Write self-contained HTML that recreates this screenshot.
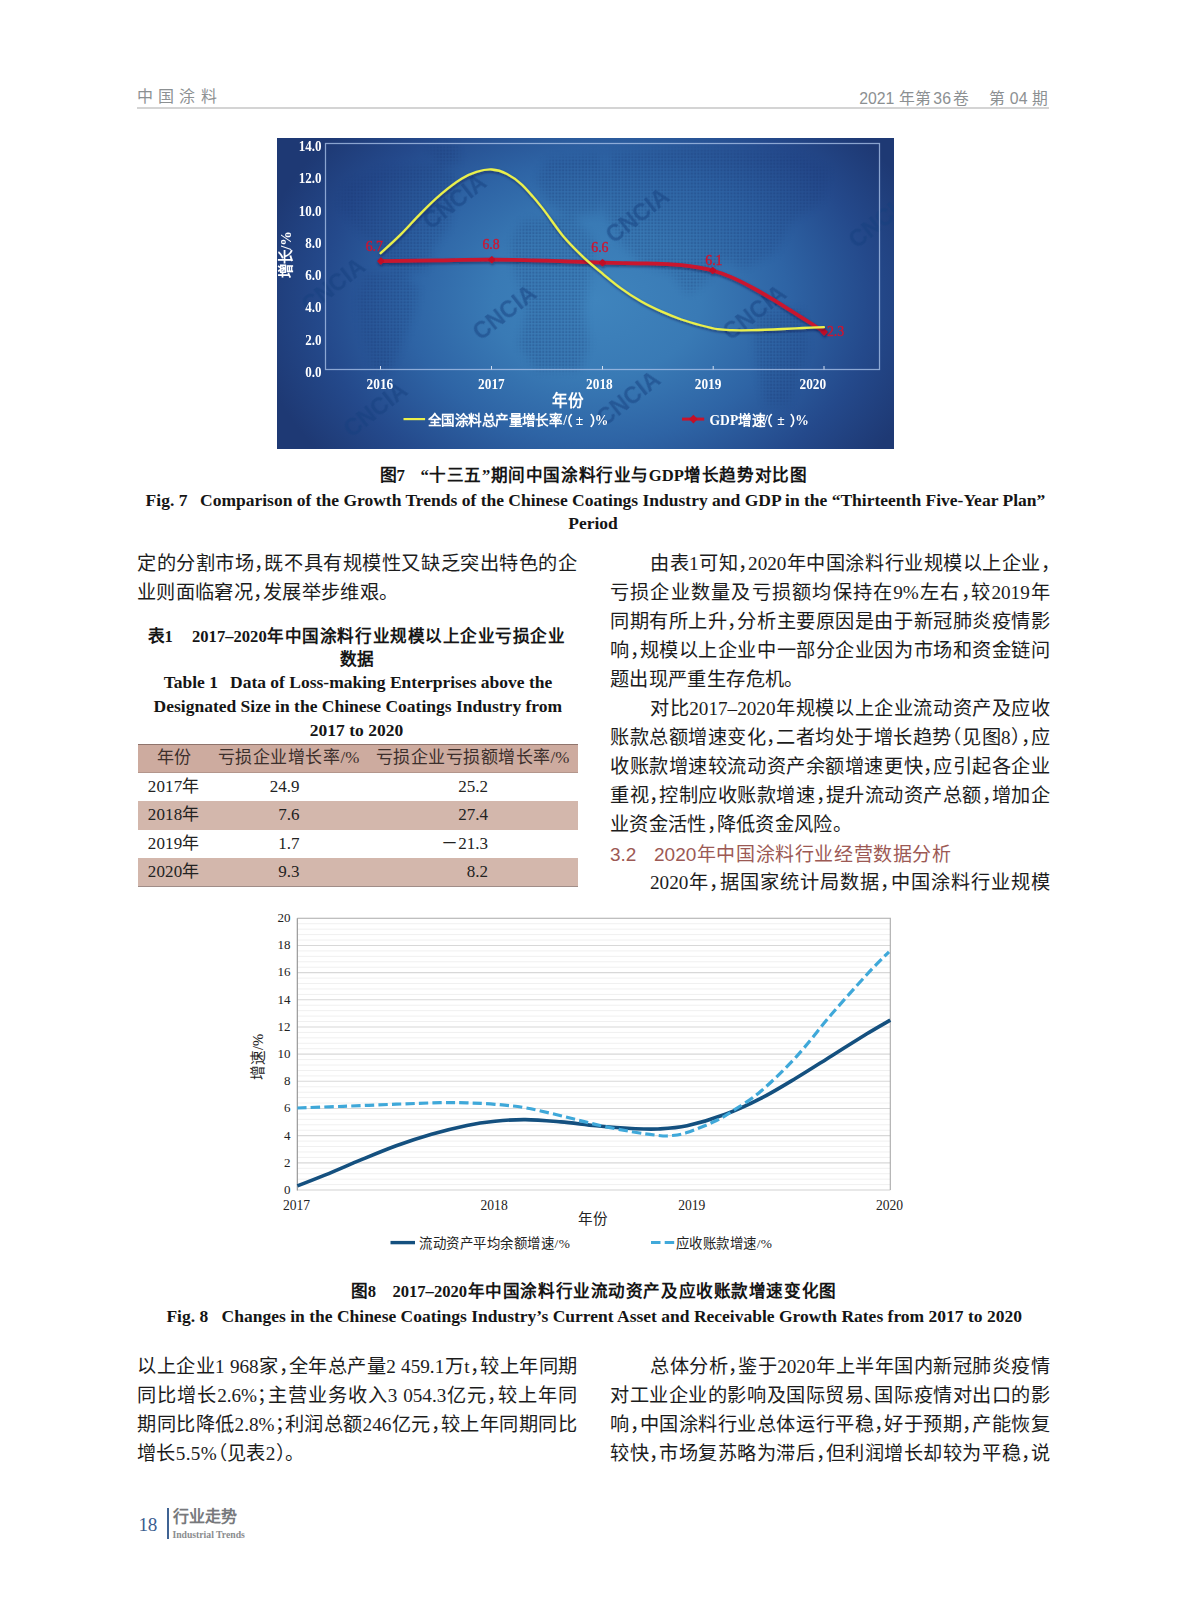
<!DOCTYPE html>
<html lang="zh-CN">
<head>
<meta charset="utf-8">
<title>中国涂料 2021年第36卷 第04期</title>
<style>
html,body{margin:0;padding:0;background:#fff;}
body{width:1187px;height:1600px;position:relative;overflow:hidden;font-family:"Liberation Serif",serif;color:#1a1a1a;text-spacing-trim:space-all;}
.a{position:absolute;white-space:nowrap;}
.l{position:absolute;white-space:nowrap;font-size:19.2px;line-height:29px;height:29px;text-align:justify;text-align-last:justify;color:#1c1c1c;}
.l.s{text-align:left;text-align-last:left;letter-spacing:0.36px;}
i.c{font-style:normal;margin-right:-0.5em;}
i.o{font-style:normal;margin-left:-0.5em;}
.cap{position:absolute;white-space:nowrap;font-weight:bold;text-align:center;color:#151515;}
.zh{font-family:"Liberation Serif",sans-serif;}
.hd{font-family:"Liberation Sans",sans-serif;color:#8c9092;font-size:16px;}
.tb{position:absolute;left:137.5px;width:440px;}
.tr{position:absolute;left:0;width:440px;height:28.6px;line-height:28.6px;font-size:17px;color:#222;}
.tr span{position:absolute;top:0;text-align:center;white-space:nowrap;}
.sh{background:#d3b7ac;}
.th{background:#cdab9f;color:#3c2f2c;}
</style>
</head>
<body>
<div class="a hd" style="left:137px;top:87px;line-height:20px;letter-spacing:5.2px;">中国涂料</div>
<div class="a hd" style="left:859.2px;top:89px;line-height:20px;font-size:15.8px;word-spacing:0.5px;">2021<span style="margin-left:4.3px;letter-spacing:0.8px;">年第</span><span style="margin-left:1.1px;">36</span><span style="margin-left:2.1px;">卷</span><span style="margin-left:10.2px;">&nbsp;&nbsp;第 04 期</span></div>
<div class="a" style="left:137px;top:107.4px;width:912px;height:1.3px;background:#d4d4d4;"></div>
<svg style="position:absolute;left:276.5px;top:137.5px;" width="617" height="311" viewBox="276.5 137.5 617 311" font-family="'Liberation Serif',serif">
<defs>
<radialGradient id="bg1" gradientUnits="userSpaceOnUse" cx="596" cy="300" r="345" gradientTransform="translate(596 300) scale(1 0.74) translate(-596 -300)">
<stop offset="0" stop-color="#3f84bd"/><stop offset="0.3" stop-color="#397ab5"/><stop offset="0.55" stop-color="#2e64a5"/><stop offset="0.8" stop-color="#24498b"/><stop offset="1" stop-color="#1e3974"/>
</radialGradient>
<pattern id="dots" x="0" y="0" width="3.3" height="3.3" patternUnits="userSpaceOnUse"><rect x="0.4" y="0.4" width="2.3" height="2.3" fill="#17336e"/></pattern>
<filter id="sh1" x="-5%" y="-20%" width="110%" height="140%"><feDropShadow dx="0.6" dy="1.6" stdDeviation="1.2" flood-color="#0a1840" flood-opacity="0.55"/></filter>
<filter id="blur3" x="-10%" y="-10%" width="120%" height="120%"><feGaussianBlur stdDeviation="4"/></filter>
</defs>
<rect x="276.5" y="137.5" width="617" height="311" fill="url(#bg1)"/>
<mask id="mapmask" maskUnits="userSpaceOnUse" x="276.5" y="137.5" width="617" height="311"><g fill="#fff" filter="url(#blur3)">
<polygon points="344.5,184.7 380.8,169.1 432.7,163.9 456.0,174.3 453.4,200.3 448.3,226.2 432.7,247.0 427.5,267.7 406.7,274.0 391.2,267.7 375.6,247.0 354.8,226.2 339.3,205.5"/>
<polygon points="365.2,272.9 401.5,270.3 418.2,288.5 413.0,314.4 400.5,345.6 390.1,368.9 373.5,368.9 362.6,335.2 357.4,298.9"/>
<polygon points="427.5,147.3 456.0,144.2 459.7,161.4 438.9,168.1"/>
<polygon points="546.8,158.8 598.7,153.6 609.1,179.5 599.8,210.7 567.6,216.9 546.8,201.3 536.5,179.5"/>
<polygon points="520.9,221.0 572.8,215.8 594.6,241.8 589.4,272.9 583.2,309.3 588.4,345.6 579.0,370.0 536.5,370.0 518.3,345.6 526.1,309.3 513.1,267.7 510.5,241.8"/>
<polygon points="609.1,153.6 692.2,148.4 795.9,153.6 828.1,169.1 821.9,200.3 790.8,221.0 775.2,252.2 744.0,267.7 723.3,258.4 703.6,283.3 687.0,293.7 671.4,272.9 640.3,262.5 619.5,241.8 603.9,210.7"/>
<polygon points="759.6,309.3 801.1,309.3 807.4,345.6 795.9,381.9 788.2,403.7 764.8,403.7 757.0,366.3 753.4,335.2"/>
</g></mask>
<rect x="276.5" y="137.5" width="617" height="311" fill="url(#dots)" mask="url(#mapmask)" opacity="0.3"/>
<g font-family="'Liberation Sans',sans-serif" font-weight="bold" font-size="23" fill="#16407f" opacity="0.5" text-anchor="middle">
<text x="454" y="201" transform="rotate(-38 454 201)" dy="8">CNCIA</text>
<text x="504" y="312" transform="rotate(-38 504 312)" dy="8">CNCIA</text>
<text x="333" y="285" transform="rotate(-38 333 285)" dy="8">CNCIA</text>
<text x="637" y="215" transform="rotate(-38 637 215)" dy="8">CNCIA</text>
<text x="754" y="312" transform="rotate(-38 754 312)" dy="8">CNCIA</text>
<text x="880" y="220" transform="rotate(-38 880 220)" dy="8">CNCIA</text>
<text x="375" y="409" transform="rotate(-38 375 409)" dy="8">CNCIA</text>
<text x="628" y="398" transform="rotate(-38 628 398)" dy="8">CNCIA</text>
</g>
<rect x="325" y="143" width="554" height="226" fill="none" stroke="#a9c2e8" stroke-width="1.25" opacity="0.78"/>
<line x1="380" y1="365.5" x2="380" y2="369" stroke="#d5dff0" stroke-width="1"/>
<line x1="491" y1="365.5" x2="491" y2="369" stroke="#d5dff0" stroke-width="1"/>
<line x1="602" y1="365.5" x2="602" y2="369" stroke="#d5dff0" stroke-width="1"/>
<line x1="712.7" y1="365.5" x2="712.7" y2="369" stroke="#d5dff0" stroke-width="1"/>
<line x1="823.5" y1="365.5" x2="823.5" y2="369" stroke="#d5dff0" stroke-width="1"/>
<g fill="#fff" font-weight="bold" font-size="15.2" text-anchor="end">
<text x="321" y="371.4" dy="5.1" textLength="16.3" lengthAdjust="spacingAndGlyphs">0.0</text>
<text x="321" y="339.1" dy="5.1" textLength="16.3" lengthAdjust="spacingAndGlyphs">2.0</text>
<text x="321" y="306.8" dy="5.1" textLength="16.3" lengthAdjust="spacingAndGlyphs">4.0</text>
<text x="321" y="274.5" dy="5.1" textLength="16.3" lengthAdjust="spacingAndGlyphs">6.0</text>
<text x="321" y="242.3" dy="5.1" textLength="16.3" lengthAdjust="spacingAndGlyphs">8.0</text>
<text x="321" y="210.0" dy="5.1" textLength="22.8" lengthAdjust="spacingAndGlyphs">10.0</text>
<text x="321" y="177.7" dy="5.1" textLength="22.8" lengthAdjust="spacingAndGlyphs">12.0</text>
<text x="321" y="145.4" dy="5.1" textLength="22.8" lengthAdjust="spacingAndGlyphs">14.0</text>
</g>
<g fill="#fff" font-weight="bold" font-size="15.2" text-anchor="middle">
<text x="379.4" y="388.4" textLength="26.6" lengthAdjust="spacingAndGlyphs">2016</text>
<text x="490.9" y="388.4" textLength="26.6" lengthAdjust="spacingAndGlyphs">2017</text>
<text x="598.9" y="388.4" textLength="26.6" lengthAdjust="spacingAndGlyphs">2018</text>
<text x="707.6" y="388.4" textLength="26.6" lengthAdjust="spacingAndGlyphs">2019</text>
<text x="812.3" y="388.4" textLength="26.6" lengthAdjust="spacingAndGlyphs">2020</text>
</g>
<text x="567.5" y="405.2" fill="#fff" font-weight="bold" font-size="15.5" text-anchor="middle" font-family="'Liberation Serif',sans-serif">年份</text>
<text x="290.5" y="254" fill="#fff" font-weight="bold" font-size="14.5" text-anchor="middle" transform="rotate(-90 290.5 254)" font-family="'Liberation Serif',sans-serif">增长/%</text>
<g filter="url(#sh1)"><path d="M380.3,260.6 C389.4,260.5 416.5,260.0 435.0,259.8 C453.5,259.6 473.0,259.1 491.3,259.2 C509.6,259.3 526.5,259.7 545.0,260.2 C563.5,260.7 586.1,261.8 602.0,262.2 C617.9,262.6 628.9,262.5 640.4,262.8 C651.9,263.1 662.4,263.3 670.8,263.8 C679.2,264.3 684.1,264.8 691.0,265.8 C697.9,266.8 705.5,268.1 712.2,270.0 C718.9,271.9 724.8,274.1 731.4,276.9 C738.0,279.7 744.9,283.4 751.6,287.0 C758.4,290.6 765.1,294.6 771.9,298.7 C778.6,302.8 785.4,307.1 792.1,311.3 C798.8,315.5 807.0,320.6 812.3,324.0 C817.5,327.4 821.7,330.2 823.6,331.4" fill="none" stroke="#c9162f" stroke-width="3.7" stroke-linecap="round"/>
<rect x="377.5" y="257.8" width="5.6" height="5.6" rx="1" fill="#c00d25" transform="rotate(45 380.3 260.6)"/>
<rect x="488.5" y="256.4" width="5.6" height="5.6" rx="1" fill="#c00d25" transform="rotate(45 491.3 259.2)"/>
<rect x="599.2" y="259.4" width="5.6" height="5.6" rx="1" fill="#c00d25" transform="rotate(45 602 262.2)"/>
<rect x="709.4" y="267.2" width="5.6" height="5.6" rx="1" fill="#c00d25" transform="rotate(45 712.2 270)"/>
<rect x="820.8" y="328.6" width="5.6" height="5.6" rx="1" fill="#c00d25" transform="rotate(45 823.6 331.4)"/>
</g>
<path d="M380.1,252.7 C383.5,249.6 393.6,240.6 400.3,233.9 C407.0,227.2 413.8,219.3 420.5,212.6 C427.2,205.8 434.1,199.1 440.8,193.4 C447.6,187.7 455.1,182.0 461.0,178.3 C466.9,174.6 470.9,173.0 476.0,171.4 C481.1,169.8 486.2,168.7 491.3,169.0 C496.4,169.3 501.4,170.8 506.5,173.4 C511.6,176.0 515.7,178.6 521.6,184.3 C527.5,190.0 535.1,199.2 541.9,207.6 C548.6,216.0 555.4,226.8 562.1,234.9 C568.8,243.0 576.0,250.0 582.3,256.1 C588.6,262.2 593.7,266.1 600.0,271.4 C606.3,276.6 613.5,282.7 620.2,287.6 C626.9,292.5 633.6,296.9 640.4,300.8 C647.1,304.7 654.0,307.9 660.7,310.9 C667.5,313.9 674.2,316.6 680.9,319.0 C687.6,321.4 695.0,323.4 701.1,325.0 C707.2,326.6 712.2,327.9 717.3,328.7 C722.3,329.5 725.7,329.5 731.4,329.7 C737.1,329.9 743.2,329.9 751.6,329.7 C760.0,329.5 773.6,328.9 782.0,328.5 C790.4,328.1 795.3,327.8 802.2,327.5 C809.1,327.2 819.9,326.8 823.4,326.6" fill="none" stroke="#eaf04c" stroke-width="2.3" stroke-linecap="round" filter="url(#sh1)"/>
<g fill="#d0142f" stroke="#d0142f" stroke-width="0.35" font-size="13.8" text-anchor="middle">
<text x="373.8" y="250.6">6.7</text>
<text x="490.5" y="248.4">6.8</text>
<text x="599.4" y="251">6.6</text>
<text x="713.4" y="264">6.1</text>
<text x="835" y="335.8">2.3</text>
</g>
<line x1="403" y1="418.6" x2="424.6" y2="418.6" stroke="#ecf04a" stroke-width="2.2"/>
<text y="424.9" fill="#fff" font-weight="bold" font-size="13.6" font-family="'Liberation Serif',sans-serif"><tspan x="427.4" textLength="135" lengthAdjust="spacing">全国涂料总产量增长率</tspan><tspan x="562.8">/</tspan><tspan x="558.7">（</tspan><tspan x="575.2">±</tspan><tspan x="589.3">）</tspan><tspan x="594.3">%</tspan></text>
<line x1="681.5" y1="418.6" x2="703.7" y2="418.6" stroke="#c8142d" stroke-width="3"/>
<rect x="689.8" y="415.5" width="6.2" height="6.2" fill="#c40f27" transform="rotate(45 692.9 418.6)"/>
<text y="424.3" fill="#fff" font-weight="bold" font-size="13.6" font-family="'Liberation Serif',sans-serif"><tspan x="709">GDP</tspan><tspan x="737.2">增速</tspan><tspan x="763.4">/</tspan><tspan x="758.5">（</tspan><tspan x="776.7">±</tspan><tspan x="789.5">）</tspan><tspan x="794.7">%</tspan></text>
</svg>
<div class="cap zh" style="left:379.5px;top:465px;line-height:22px;font-size:16.8px;">图7</div>
<div class="cap zh" style="left:420.4px;top:465px;line-height:22px;font-size:16.6px;width:386.3px;text-align:justify;text-align-last:justify;">“十三五”期间中国涂料行业与GDP增长趋势对比图</div>
<div class="cap" style="left:145.6px;top:488.6px;line-height:22px;font-size:17.5px;">Fig. 7</div>
<div class="cap" style="left:200px;top:488.6px;line-height:22px;font-size:17.5px;width:845px;text-align:justify;text-align-last:justify;">Comparison of the Growth Trends of the Chinese Coatings Industry and GDP in the “Thirteenth Five-Year Plan”</div>
<div class="cap" style="left:493px;top:512px;line-height:22px;font-size:17.5px;width:200px;">Period</div>
<div class="l" style="left:137px;top:548.5px;width:440px;">定的分割市场<i class="c">，</i>既不具有规模性又缺乏突出特色的企</div>
<div class="l s" style="left:137px;top:577.5px;">业则面临窘况<i class="c">，</i>发展举步维艰。</div>
<div class="l" style="left:650px;top:548.5px;width:400px;">由表1可知<i class="c">，</i>2020年中国涂料行业规模以上企业<i class="c">，</i></div>
<div class="l" style="left:610px;top:577.5px;width:440px;">亏损企业数量及亏损额均保持在9%左右<i class="c">，</i>较2019年</div>
<div class="l" style="left:610px;top:606.5px;width:440px;">同期有所上升<i class="c">，</i>分析主要原因是由于新冠肺炎疫情影</div>
<div class="l" style="left:610px;top:635.5px;width:440px;">响<i class="c">，</i>规模以上企业中一部分企业因为市场和资金链问</div>
<div class="l s" style="left:610px;top:664.5px;">题出现严重生存危机。</div>
<div class="l" style="left:650px;top:693.5px;width:400px;">对比2017–2020年规模以上企业流动资产及应收</div>
<div class="l" style="left:610px;top:722.5px;width:440px;">账款总额增速变化<i class="c">，</i>二者均处于增长趋势<i class="o">（</i>见图8<i class="c">）</i><i class="c">，</i>应</div>
<div class="l" style="left:610px;top:751.5px;width:440px;">收账款增速较流动资产余额增速更快<i class="c">，</i>应引起各企业</div>
<div class="l" style="left:610px;top:780.7px;width:440px;">重视<i class="c">，</i>控制应收账款增速<i class="c">，</i>提升流动资产总额<i class="c">，</i>增加企</div>
<div class="l s" style="left:610px;top:809.7px;">业资金活性<i class="c">，</i>降低资金风险。</div>
<div class="a" style="left:610px;top:842.6px;line-height:24px;font-size:19px;font-weight:500;font-family:'Liberation Sans',sans-serif;color:#9c5954;width:341px;text-align:justify;text-align-last:justify;">3.2&nbsp;&nbsp;&nbsp;2020年中国涂料行业经营数据分析</div>
<div class="l" style="left:650px;top:867.7px;width:400px;">2020年<i class="c">，</i>据国家统计局数据<i class="c">，</i>中国涂料行业规模</div>
<div class="cap zh" style="left:147.5px;top:626.2px;line-height:22px;font-size:16.6px;">表1</div>
<div class="cap zh" style="left:192px;top:626.2px;line-height:22px;font-size:16.6px;width:373px;text-align:justify;text-align-last:justify;">2017–2020年中国涂料行业规模以上企业亏损企业</div>
<div class="cap zh" style="left:257px;top:649px;line-height:22px;font-size:16.6px;width:200px;">数据</div>
<div class="cap" style="left:163.7px;top:671px;line-height:22px;font-size:17.5px;">Table 1</div>
<div class="cap" style="left:230px;top:671px;line-height:22px;font-size:17.5px;width:320.8px;text-align:justify;text-align-last:justify;">Data of Loss-making Enterprises above the</div>
<div class="cap" style="left:153.6px;top:694.6px;line-height:22px;font-size:17.5px;width:407.4px;text-align:justify;text-align-last:justify;">Designated Size in the Chinese Coatings Industry from</div>
<div class="cap" style="left:256.5px;top:718.6px;line-height:22px;font-size:17.5px;width:200px;">2017 to 2020</div>
<div class="tb" style="top:744px;height:143px;">
<div class="tr th" style="top:0px;">
<span style="left:18px;width:36px;">年份</span><span style="left:80px;width:142px;text-align-last:justify;">亏损企业增长率/%</span><span style="left:238px;width:194px;text-align-last:justify;">亏损企业亏损额增长率/%</span>
</div>
<div class="tr" style="top:28.6px;">
<span style="left:10.3px;text-align:left;letter-spacing:0.15px;">2017年</span><span style="left:62px;width:100px;text-align:right;">24.9</span><span style="left:230.6px;width:120px;text-align:right;">25.2</span>
</div>
<div class="tr sh" style="top:57.2px;">
<span style="left:10.3px;text-align:left;letter-spacing:0.15px;">2018年</span><span style="left:62px;width:100px;text-align:right;">7.6</span><span style="left:230.6px;width:120px;text-align:right;">27.4</span>
</div>
<div class="tr" style="top:85.8px;">
<span style="left:10.3px;text-align:left;letter-spacing:0.15px;">2019年</span><span style="left:62px;width:100px;text-align:right;">1.7</span><span style="left:230.6px;width:120px;text-align:right;">－21.3</span>
</div>
<div class="tr sh" style="top:114.4px;">
<span style="left:10.3px;text-align:left;letter-spacing:0.15px;">2020年</span><span style="left:62px;width:100px;text-align:right;">9.3</span><span style="left:230.6px;width:120px;text-align:right;">8.2</span>
</div>
<div style="position:absolute;left:0;top:-0.2px;width:440px;height:1.1px;background:#8f746c;"></div>
<div style="position:absolute;left:0;top:28px;width:440px;height:0.8px;background:#b3968c;"></div>
<div style="position:absolute;left:0;top:142.2px;width:440px;height:1px;background:#a08d88;"></div>
</div>
<svg style="position:absolute;left:240px;top:905px;" width="680" height="357" viewBox="240 905 680 357" font-family="'Liberation Serif',serif">
<line x1="297.3" y1="1184.57" x2="890.3" y2="1184.57" stroke="#f0f0f0" stroke-width="1"/>
<line x1="297.3" y1="1179.13" x2="890.3" y2="1179.13" stroke="#f0f0f0" stroke-width="1"/>
<line x1="297.3" y1="1173.70" x2="890.3" y2="1173.70" stroke="#f0f0f0" stroke-width="1"/>
<line x1="297.3" y1="1168.26" x2="890.3" y2="1168.26" stroke="#f0f0f0" stroke-width="1"/>
<line x1="297.3" y1="1157.40" x2="890.3" y2="1157.40" stroke="#f0f0f0" stroke-width="1"/>
<line x1="297.3" y1="1151.96" x2="890.3" y2="1151.96" stroke="#f0f0f0" stroke-width="1"/>
<line x1="297.3" y1="1146.53" x2="890.3" y2="1146.53" stroke="#f0f0f0" stroke-width="1"/>
<line x1="297.3" y1="1141.09" x2="890.3" y2="1141.09" stroke="#f0f0f0" stroke-width="1"/>
<line x1="297.3" y1="1130.23" x2="890.3" y2="1130.23" stroke="#f0f0f0" stroke-width="1"/>
<line x1="297.3" y1="1124.79" x2="890.3" y2="1124.79" stroke="#f0f0f0" stroke-width="1"/>
<line x1="297.3" y1="1119.36" x2="890.3" y2="1119.36" stroke="#f0f0f0" stroke-width="1"/>
<line x1="297.3" y1="1113.92" x2="890.3" y2="1113.92" stroke="#f0f0f0" stroke-width="1"/>
<line x1="297.3" y1="1103.06" x2="890.3" y2="1103.06" stroke="#f0f0f0" stroke-width="1"/>
<line x1="297.3" y1="1097.62" x2="890.3" y2="1097.62" stroke="#f0f0f0" stroke-width="1"/>
<line x1="297.3" y1="1092.19" x2="890.3" y2="1092.19" stroke="#f0f0f0" stroke-width="1"/>
<line x1="297.3" y1="1086.75" x2="890.3" y2="1086.75" stroke="#f0f0f0" stroke-width="1"/>
<line x1="297.3" y1="1075.89" x2="890.3" y2="1075.89" stroke="#f0f0f0" stroke-width="1"/>
<line x1="297.3" y1="1070.45" x2="890.3" y2="1070.45" stroke="#f0f0f0" stroke-width="1"/>
<line x1="297.3" y1="1065.02" x2="890.3" y2="1065.02" stroke="#f0f0f0" stroke-width="1"/>
<line x1="297.3" y1="1059.58" x2="890.3" y2="1059.58" stroke="#f0f0f0" stroke-width="1"/>
<line x1="297.3" y1="1048.72" x2="890.3" y2="1048.72" stroke="#f0f0f0" stroke-width="1"/>
<line x1="297.3" y1="1043.28" x2="890.3" y2="1043.28" stroke="#f0f0f0" stroke-width="1"/>
<line x1="297.3" y1="1037.85" x2="890.3" y2="1037.85" stroke="#f0f0f0" stroke-width="1"/>
<line x1="297.3" y1="1032.41" x2="890.3" y2="1032.41" stroke="#f0f0f0" stroke-width="1"/>
<line x1="297.3" y1="1021.55" x2="890.3" y2="1021.55" stroke="#f0f0f0" stroke-width="1"/>
<line x1="297.3" y1="1016.11" x2="890.3" y2="1016.11" stroke="#f0f0f0" stroke-width="1"/>
<line x1="297.3" y1="1010.68" x2="890.3" y2="1010.68" stroke="#f0f0f0" stroke-width="1"/>
<line x1="297.3" y1="1005.24" x2="890.3" y2="1005.24" stroke="#f0f0f0" stroke-width="1"/>
<line x1="297.3" y1="994.38" x2="890.3" y2="994.38" stroke="#f0f0f0" stroke-width="1"/>
<line x1="297.3" y1="988.94" x2="890.3" y2="988.94" stroke="#f0f0f0" stroke-width="1"/>
<line x1="297.3" y1="983.51" x2="890.3" y2="983.51" stroke="#f0f0f0" stroke-width="1"/>
<line x1="297.3" y1="978.07" x2="890.3" y2="978.07" stroke="#f0f0f0" stroke-width="1"/>
<line x1="297.3" y1="967.21" x2="890.3" y2="967.21" stroke="#f0f0f0" stroke-width="1"/>
<line x1="297.3" y1="961.77" x2="890.3" y2="961.77" stroke="#f0f0f0" stroke-width="1"/>
<line x1="297.3" y1="956.34" x2="890.3" y2="956.34" stroke="#f0f0f0" stroke-width="1"/>
<line x1="297.3" y1="950.90" x2="890.3" y2="950.90" stroke="#f0f0f0" stroke-width="1"/>
<line x1="297.3" y1="940.04" x2="890.3" y2="940.04" stroke="#f0f0f0" stroke-width="1"/>
<line x1="297.3" y1="934.60" x2="890.3" y2="934.60" stroke="#f0f0f0" stroke-width="1"/>
<line x1="297.3" y1="929.17" x2="890.3" y2="929.17" stroke="#f0f0f0" stroke-width="1"/>
<line x1="297.3" y1="923.73" x2="890.3" y2="923.73" stroke="#f0f0f0" stroke-width="1"/>
<line x1="297.3" y1="1162.83" x2="890.3" y2="1162.83" stroke="#d8d8d8" stroke-width="1.1"/>
<line x1="297.3" y1="1135.66" x2="890.3" y2="1135.66" stroke="#d8d8d8" stroke-width="1.1"/>
<line x1="297.3" y1="1108.49" x2="890.3" y2="1108.49" stroke="#d8d8d8" stroke-width="1.1"/>
<line x1="297.3" y1="1081.32" x2="890.3" y2="1081.32" stroke="#d8d8d8" stroke-width="1.1"/>
<line x1="297.3" y1="1054.15" x2="890.3" y2="1054.15" stroke="#d8d8d8" stroke-width="1.1"/>
<line x1="297.3" y1="1026.98" x2="890.3" y2="1026.98" stroke="#d8d8d8" stroke-width="1.1"/>
<line x1="297.3" y1="999.81" x2="890.3" y2="999.81" stroke="#d8d8d8" stroke-width="1.1"/>
<line x1="297.3" y1="972.64" x2="890.3" y2="972.64" stroke="#d8d8d8" stroke-width="1.1"/>
<line x1="297.3" y1="945.47" x2="890.3" y2="945.47" stroke="#d8d8d8" stroke-width="1.1"/>
<line x1="297.3" y1="1190" x2="890.3" y2="1190" stroke="#d2d2d2" stroke-width="1.2"/>
<path d="M297.3,918.3 L890.3,918.3 L890.3,1190" fill="none" stroke="#ababab" stroke-width="1.1"/>
<line x1="297.3" y1="918.3" x2="297.3" y2="1190.6" stroke="#8f8f8f" stroke-width="1.1"/>
<g fill="#222" font-size="13" text-anchor="end">
<text x="290.5" y="1190.0" dy="3.8">0</text>
<text x="290.5" y="1162.8" dy="3.8">2</text>
<text x="290.5" y="1135.7" dy="3.8">4</text>
<text x="290.5" y="1108.5" dy="3.8">6</text>
<text x="290.5" y="1081.3" dy="3.8">8</text>
<text x="290.5" y="1054.2" dy="3.8">10</text>
<text x="290.5" y="1027.0" dy="3.8">12</text>
<text x="290.5" y="999.8" dy="3.8">14</text>
<text x="290.5" y="972.6" dy="3.8">16</text>
<text x="290.5" y="945.5" dy="3.8">18</text>
<text x="290.5" y="918.3" dy="3.8">20</text>
</g>
<g fill="#222" font-size="13.6" text-anchor="middle">
<text x="296.5" y="1210.4">2017</text>
<text x="494.1" y="1210.4">2018</text>
<text x="691.8" y="1210.4">2019</text>
<text x="889.5" y="1210.4">2020</text>
</g>
<text x="593" y="1223.6" fill="#222" font-size="14.6" text-anchor="middle">年份</text>
<text x="262.5" y="1057" fill="#222" font-size="14.6" text-anchor="middle" transform="rotate(-90 262.5 1057)">增速/%</text>
<path d="M297.4,1185.9 C302.1,1184.1 314.8,1179.2 325.4,1174.9 C336.0,1170.6 349.0,1164.8 360.8,1159.9 C372.6,1155.0 384.4,1150.0 396.2,1145.7 C408.0,1141.4 419.7,1137.6 431.5,1134.2 C443.3,1130.8 456.3,1127.6 466.9,1125.4 C477.5,1123.2 485.2,1122.2 495.0,1121.2 C504.8,1120.2 514.4,1119.5 525.4,1119.6 C536.4,1119.7 549.0,1120.9 560.8,1121.9 C572.6,1122.9 584.4,1124.7 596.2,1125.8 C608.0,1126.9 621.2,1128.0 631.5,1128.5 C641.8,1129.0 648.8,1129.5 658.0,1129.0 C667.2,1128.5 675.8,1128.2 687.0,1125.8 C698.2,1123.3 713.1,1118.9 725.4,1114.3 C737.7,1109.7 749.0,1104.5 760.8,1098.4 C772.6,1092.4 784.4,1085.1 796.2,1078.0 C808.0,1070.9 819.7,1063.3 831.5,1055.9 C843.3,1048.5 857.1,1039.8 866.9,1033.8 C876.7,1027.8 886.4,1022.4 890.3,1020.1" fill="none" stroke="#14507f" stroke-width="3.6" stroke-linecap="butt"/>
<path d="M297.4,1108.0 C305.0,1107.7 326.5,1106.9 343.0,1106.3 C359.5,1105.7 380.0,1104.8 396.2,1104.2 C412.4,1103.6 428.6,1102.9 440.4,1102.7 C452.2,1102.5 457.8,1102.6 466.9,1102.9 C476.0,1103.2 485.2,1103.5 495.0,1104.3 C504.8,1105.1 514.4,1105.9 525.4,1107.8 C536.4,1109.7 549.0,1112.9 560.8,1115.7 C572.6,1118.5 584.4,1121.9 596.2,1124.6 C608.0,1127.3 621.2,1129.9 631.5,1131.7 C641.8,1133.5 651.5,1134.7 658.0,1135.4 C664.5,1136.1 665.7,1136.2 670.5,1135.7 C675.3,1135.2 679.3,1135.1 687.0,1132.6 C694.7,1130.1 708.6,1124.3 716.5,1120.5 C724.4,1116.7 726.8,1114.8 734.2,1109.9 C741.6,1105.0 750.5,1100.2 760.8,1091.3 C771.1,1082.4 784.4,1069.6 796.2,1056.8 C808.0,1044.0 819.7,1028.0 831.5,1014.3 C843.3,1000.6 857.3,984.9 866.9,974.5 C876.5,964.1 885.3,955.6 889.0,951.8" fill="none" stroke="#3fa8d9" stroke-width="3.2" stroke-dasharray="9.3 4.2" stroke-linecap="butt"/>
<line x1="390.5" y1="1242.6" x2="415" y2="1242.6" stroke="#14507f" stroke-width="3.4"/>
<text x="419" y="1248" fill="#222" font-size="13.4" textLength="151" lengthAdjust="spacing">流动资产平均余额增速/%</text>
<line x1="651" y1="1242.6" x2="675" y2="1242.6" stroke="#41a9da" stroke-width="3" stroke-dasharray="9.5 4.2"/>
<text x="676" y="1248" fill="#222" font-size="13.4" textLength="96" lengthAdjust="spacing">应收账款增速/%</text>
</svg>
<div class="cap zh" style="left:350.7px;top:1281px;line-height:22px;font-size:16.6px;">图8</div>
<div class="cap zh" style="left:392.4px;top:1281px;line-height:22px;font-size:16.6px;width:443.8px;text-align:justify;text-align-last:justify;">2017–2020年中国涂料行业流动资产及应收账款增速变化图</div>
<div class="cap" style="left:166.4px;top:1305px;line-height:22px;font-size:17.5px;">Fig. 8</div>
<div class="cap" style="left:221.6px;top:1305px;line-height:22px;font-size:17.5px;width:800.4px;text-align:justify;text-align-last:justify;">Changes in the Chinese Coatings Industry’s Current Asset and Receivable Growth Rates from 2017 to 2020</div>
<div class="l" style="left:137px;top:1351.5px;width:440px;">以上企业1 968家<i class="c">，</i>全年总产量2 459.1万t<i class="c">，</i>较上年同期</div>
<div class="l" style="left:137px;top:1380.5px;width:440px;">同比增长2.6%<i class="c">；</i>主营业务收入3 054.3亿元<i class="c">，</i>较上年同</div>
<div class="l" style="left:137px;top:1409.5px;width:440px;">期同比降低2.8%<i class="c">；</i>利润总额246亿元<i class="c">，</i>较上年同期同比</div>
<div class="l s" style="left:137px;top:1438.5px;">增长5.5%<i class="o">（</i>见表2<i class="c">）</i>。</div>
<div class="l" style="left:650px;top:1351.5px;width:400px;">总体分析<i class="c">，</i>鉴于2020年上半年国内新冠肺炎疫情</div>
<div class="l" style="left:610px;top:1380.5px;width:440px;">对工业企业的影响及国际贸易<i class="c">、</i>国际疫情对出口的影</div>
<div class="l" style="left:610px;top:1409.5px;width:440px;">响<i class="c">，</i>中国涂料行业总体运行平稳<i class="c">，</i>好于预期<i class="c">，</i>产能恢复</div>
<div class="l" style="left:610px;top:1438.5px;width:440px;">较快<i class="c">，</i>市场复苏略为滞后<i class="c">，</i>但利润增长却较为平稳<i class="c">，</i>说</div>
<div class="a" style="left:138.4px;top:1511.6px;line-height:26px;font-size:19.2px;letter-spacing:-0.2px;color:#3b5d8f;">18</div>
<div class="a" style="left:166.8px;top:1508px;width:1.9px;height:30.5px;background:#3f6393;"></div>
<div class="a" style="left:172.6px;top:1506.4px;line-height:22px;font-size:16px;font-weight:bold;color:#77797c;font-family:'Liberation Sans',sans-serif;">行业走势</div>
<div class="a" style="left:172.4px;top:1528.6px;line-height:12px;font-size:9.7px;font-weight:bold;color:#8a8c8e;">Industrial Trends</div>
</body>
</html>
